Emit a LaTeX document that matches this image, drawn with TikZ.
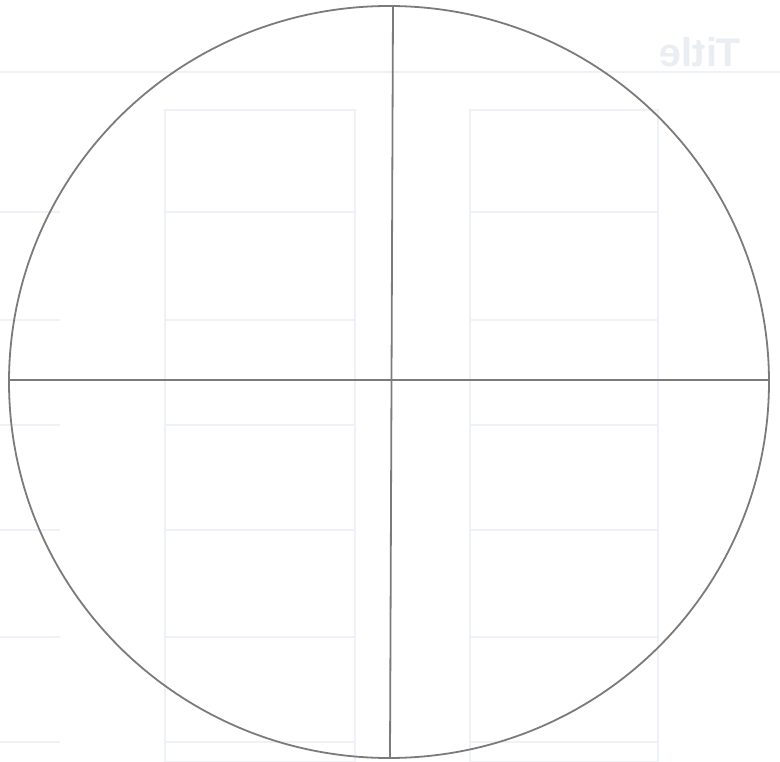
\documentclass[tikz,border=0pt]{standalone}
\usepackage{fontspec}
\setmainfont{Liberation Sans}
\usetikzlibrary{shapes.geometric}
\begin{document}
\begin{tikzpicture}[x=1pt,y=-1pt,
  faint/.style={draw={rgb,255:red,238;green,242;blue,246},line width=1.2pt},
  mainline/.style={draw={rgb,255:red,125;green,122;blue,122},line width=1.8pt}]
\useasboundingbox[fill=white] (0,0) rectangle (780,762);
% faint show-through
\draw[faint] (0,72) -- (780,72);
\foreach \yy in {212,320,425,530,637,742}{
  \draw[faint] (0,\yy) -- (60,\yy);
  \draw[faint] (165,\yy) -- (355,\yy);
  \draw[faint] (470,\yy) -- (658,\yy);
}
\draw[faint] (165,110) rectangle (355,762);
\draw[faint] (470,110) rectangle (658,762);
\node[xscale=-1,text={rgb,255:red,234;green,238;blue,242},font=\bfseries\fontsize{40}{40}\selectfont] (title) at (700,52) {Title};
% main drawing
\node[mainline,ellipse,minimum width=760pt,minimum height=752pt,inner sep=0pt] (c) at (389,382) {};
\coordinate (top) at (393,6);
\coordinate (bot) at (390,758);
\coordinate (lft) at (9,380);
\coordinate (rgt) at (769,380);
\draw[mainline] (top) -- (bot);
\draw[mainline] (lft) -- (rgt);
\end{tikzpicture}
\end{document}
